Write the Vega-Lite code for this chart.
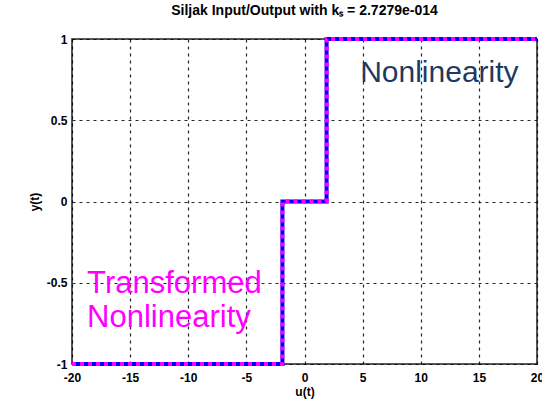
{
  "$schema": "https://vega.github.io/schema/vega-lite/v6.json",
  "width": 465,
  "height": 325,
  "autosize": {"type": "none"},
  "padding": {"left": 72, "top": 39, "right": 5, "bottom": 44},
  "background": "white",
  "config": {
    "view": {"stroke": "#222", "strokeWidth": 1.5},
    "font": "Liberation Sans"
  },
  "title": {
    "text": "Siljak Input/Output with kₛ = 2.7279e-014",
    "fontSize": 14,
    "fontWeight": "bold",
    "color": "#000",
    "anchor": "middle",
    "offset": 13,
    "font": "Liberation Sans"
  },
  "datasets": {
    "steps": [
      {"i": 1, "u": -20, "y": -1},
      {"i": 2, "u": -1.9, "y": -1},
      {"i": 3, "u": -1.9, "y": 0},
      {"i": 4, "u": 1.9, "y": 0},
      {"i": 5, "u": 1.9, "y": 1},
      {"i": 6, "u": 20, "y": 1}
    ],
    "labels": [
      {"u": 11.6, "y": 0.735, "text": "Nonlinearity", "kind": "a"},
      {"u": -18.7, "y": -0.565, "text": "Transformed", "kind": "b"},
      {"u": -18.7, "y": -0.775, "text": "Nonlinearity", "kind": "b"}
    ]
  },
  "encoding": {
    "x": {
      "field": "u", "type": "quantitative",
      "scale": {"domain": [-20, 20], "nice": false, "zero": false},
      "axis": {
        "title": "u(t)", "values": [-20, -15, -10, -5, 0, 5, 10, 15, 20],
        "labelExpr": "datum.value < 0 ? '-' + format(-datum.value, '~g') : format(datum.value, '~g')",
        "grid": true, "gridDash": [3, 4], "gridColor": "#000", "gridOpacity": 0.85, "gridWidth": 1.2,
        "domain": false, "ticks": false, "labelPadding": 8,
        "labelFont": "Liberation Sans", "labelFontSize": 12, "labelFontWeight": "bold", "labelColor": "#000",
        "titleFont": "Liberation Sans", "titleFontSize": 12, "titleFontWeight": "bold", "titleColor": "#000",
        "titlePadding": 3, "labelFlush": false, "labelOverlap": false
      }
    },
    "y": {
      "field": "y", "type": "quantitative",
      "scale": {"domain": [-1, 1], "nice": false},
      "axis": {
        "title": "y(t)", "values": [-1, -0.5, 0, 0.5, 1],
        "labelExpr": "datum.value < 0 ? '-' + format(-datum.value, '~g') : format(datum.value, '~g')",
        "grid": true, "gridDash": [3, 4], "gridColor": "#000", "gridOpacity": 0.85, "gridWidth": 1.2,
        "domain": false, "ticks": false, "labelPadding": 5,
        "labelFont": "Liberation Sans", "labelFontSize": 12, "labelFontWeight": "bold", "labelColor": "#000",
        "titleFont": "Liberation Sans", "titleFontSize": 12, "titleFontWeight": "bold", "titleColor": "#000",
        "titlePadding": 5, "labelFlush": false
      }
    }
  },
  "layer": [
    {
      "data": {"name": "steps"},
      "mark": {"type": "line", "color": "#0000ff", "strokeWidth": 4, "clip": false},
      "encoding": {"order": {"field": "i", "type": "quantitative"}}
    },
    {
      "data": {"name": "steps"},
      "mark": {"type": "line", "color": "#ff00ff", "strokeWidth": 4, "strokeDash": [4, 4], "clip": false},
      "encoding": {"order": {"field": "i", "type": "quantitative"}}
    },
    {
      "data": {"name": "labels"},
      "transform": [{"filter": "datum.kind == 'a'"}],
      "mark": {"type": "text", "align": "center", "baseline": "alphabetic", "fontSize": 30, "color": "#1f3a60", "font": "Liberation Sans"},
      "encoding": {"text": {"field": "text"}}
    },
    {
      "data": {"name": "labels"},
      "transform": [{"filter": "datum.kind == 'b'"}],
      "mark": {"type": "text", "align": "left", "baseline": "alphabetic", "fontSize": 31, "color": "#ff00ff", "font": "Liberation Sans"},
      "encoding": {"text": {"field": "text"}}
    }
  ]
}
